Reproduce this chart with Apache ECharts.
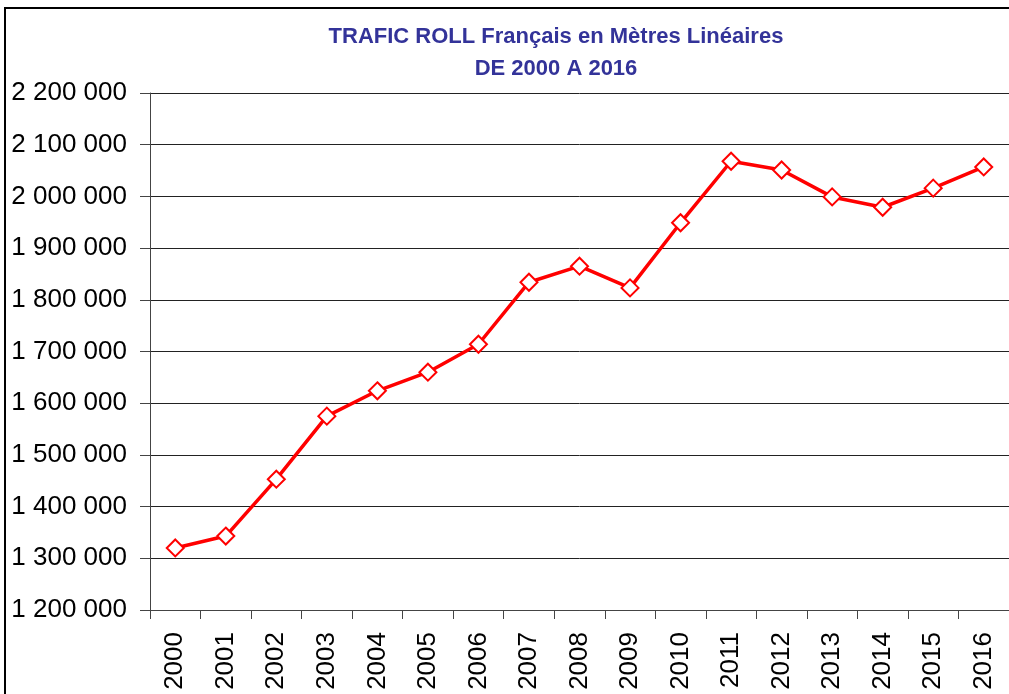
<!DOCTYPE html>
<html>
<head>
<meta charset="utf-8">
<script src="https://cdn.jsdelivr.net/npm/echarts@6/dist/echarts.min.js"></script>
<style>
  html, body { margin: 0; padding: 0; background: #fff; }
  #chart { width: 1009px; height: 694px; }
</style>
</head>
<body>
<div id="chart"></div>
<script>
const years = ['2000', '2001', '2002', '2003', '2004', '2005', '2006', '2007', '2008',
               '2009', '2010', '2011', '2012', '2013', '2014', '2015', '2016'];
const metres = [1320000, 1343000, 1453000, 1575000, 1624000, 1660000, 1714000, 1834000, 1865000,
                1823000, 1949000, 2068000, 2051000, 1999000, 1979000, 2016000, 2057000];
const titleLines = ['TRAFIC ROLL Français en Mètres Linéaires', 'DE 2000 A 2016'];

function fmt(v) {
    return String(v).replace(/\B(?=(\d{3})+(?!\d))/g, ' ');
}

const chart = echarts.init(document.getElementById('chart'));
chart.setOption({
    animation: false,
    title: {
        text: titleLines.join('\n'),
        left: 551,
        textAlign: 'center',
        top: 16,
        textStyle: {
            fontFamily: 'Liberation Sans, Arial, sans-serif',
            fontSize: 22,
            fontWeight: 'bold',
            color: '#333399',
            lineHeight: 32
        }
    },
    graphic: [{
        type: 'rect',
        shape: { x: 5, y: 8, width: 1100, height: 800 },
        style: { fill: 'none', stroke: '#000', lineWidth: 2 },
        silent: true
    }],
    grid: { left: 150, top: 93, width: 862, height: 517 },
    xAxis: {
        type: 'category',
        data: years,
        boundaryGap: true,
        axisLine: { lineStyle: { color: '#444', width: 1 } },
        axisTick: { show: true, length: 9, alignWithLabel: false, lineStyle: { color: '#444' } },
        axisLabel: {
            rotate: 90,
            margin: 22,
            interval: 0,
            fontFamily: 'Liberation Sans, Arial, sans-serif',
            fontSize: 26,
            color: '#000'
        }
    },
    yAxis: {
        type: 'value',
        min: 1200000,
        max: 2200000,
        interval: 100000,
        axisLine: { show: true, lineStyle: { color: '#444', width: 1 } },
        axisTick: { show: true, length: 10, lineStyle: { color: '#444' } },
        splitLine: { lineStyle: { color: '#222', width: 1 } },
        axisLabel: {
            margin: 23,
            formatter: fmt,
            fontFamily: 'Liberation Sans, Arial, sans-serif',
            fontSize: 26,
            color: '#000'
        }
    },
    series: [{
        type: 'line',
        data: metres,
        symbol: 'diamond',
        symbolSize: 17,
        showAllSymbol: true,
        lineStyle: { color: '#ff0000', width: 3.5 },
        itemStyle: { color: '#fff', borderColor: '#ff0000', borderWidth: 2 },
        z: 3
    }]
});
</script>
</body>
</html>
